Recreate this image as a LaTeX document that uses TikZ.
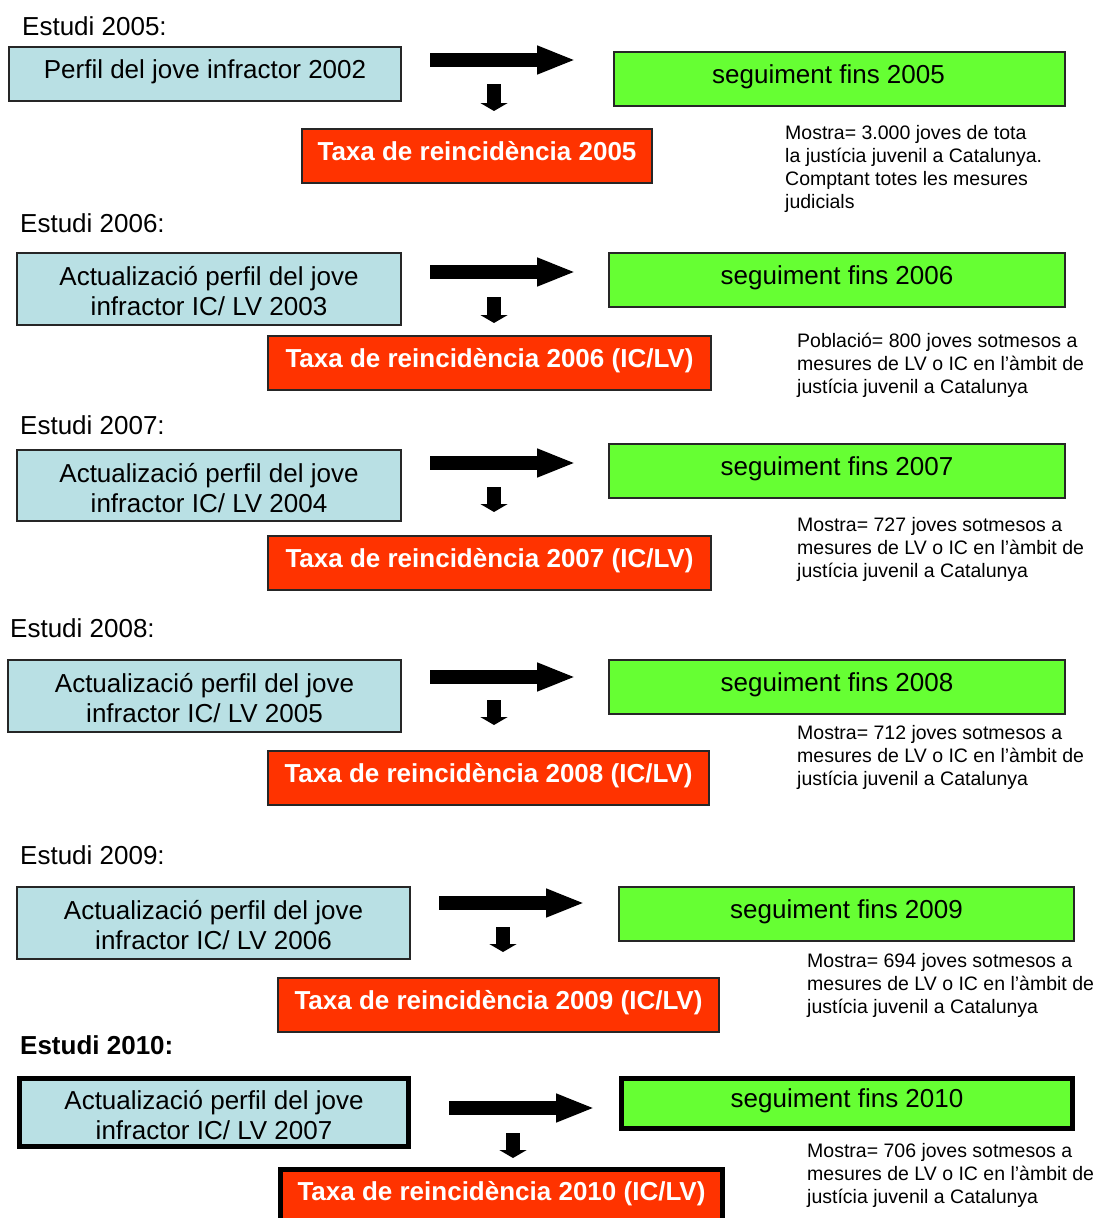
\documentclass[tikz,border=0pt]{standalone}
\usepackage{fontspec}
\setmainfont{Liberation Sans}
\usetikzlibrary{arrows.meta}
\definecolor{boxblue}{RGB}{185,224,228}
\definecolor{boxgreen}{RGB}{102,255,51}
\definecolor{boxred}{RGB}{255,51,0}
\newcommand{\uptext}[1]{\raisebox{-4.3pt}[0pt][0pt]{#1}}
\newcommand{\dntext}[1]{\raisebox{-11.8pt}[0pt][0pt]{\begin{tabular}{@{}c@{}}#1\end{tabular}}}
\tikzset{
  base/.style={rectangle, draw=black!85, line width=1.4pt, inner sep=0pt, align=center,
    font=\fontsize{26}{30}\selectfont},
  bluebox/.style={base, fill=boxblue},
  greenbox/.style={base, fill=boxgreen},
  redbox/.style={base, fill=boxred, text=white, font=\fontsize{26}{30}\selectfont\bfseries},
  thickbox/.style={line width=5pt, draw=black},
  studylabel/.style={anchor=west, inner sep=0pt, font=\fontsize{26}{30}\selectfont},
  note/.style={anchor=north west, inner sep=0pt, align=left, font=\fontsize{19.5}{23}\selectfont},
  bigarrow/.style={line width=14pt, -{Triangle[length=39pt,width=26pt]}},
  smallarrow/.style={line width=14pt, -{Triangle[length=8pt,width=27pt]}}
}
\begin{document}
\begin{tikzpicture}[x=1pt,y=-1pt]
\useasboundingbox (0,0) rectangle (1101,1218);
\clip (0,0) rectangle (1101,1218);

% ---------- 2005 ----------
\node[studylabel] (l1) at (22,26) {Estudi 2005:};
\node[bluebox, minimum width=392pt, minimum height=54pt] (b1) at (205,74) {\uptext{Perfil del jove infractor 2002}};
\node[greenbox, minimum width=451pt, minimum height=54pt] (g1) at (839.5,79) {\uptext{seguiment fins 2005}\hspace{22pt}};
\node[redbox, minimum width=350pt, minimum height=54pt] (r1) at (477,156) {\uptext{Taxa de reincidència 2005}};
\node[note] (n1) at (785,125) {Mostra= 3.000 joves de tota\\la justícia juvenil a Catalunya.\\Comptant totes les mesures\\judicials};
\coordinate (a1s) at (430,60); \coordinate (a1e) at (576,60);
\coordinate (d1s) at (494,84); \coordinate (d1e) at (494,111);
\draw[bigarrow] (a1s) -- (a1e);
\draw[smallarrow] (d1s) -- (d1e);

% ---------- 2006 ----------
\node[studylabel] (l2) at (20,223) {Estudi 2006:};
\node[bluebox, minimum width=384pt, minimum height=72pt] (b2) at (209,289) {\dntext{Actualizació perfil del jove\\infractor IC/ LV 2003}};
\node[greenbox, minimum width=456pt, minimum height=54pt] (g2) at (837,280) {\uptext{seguiment fins 2006}};
\node[redbox, minimum width=443pt, minimum height=54pt] (r2) at (489.5,363) {\uptext{Taxa de reincidència 2006 (IC/LV)}};
\node[note] (n2) at (797,333) {Població= 800 joves sotmesos a\\mesures de LV o IC en l’àmbit de\\justícia juvenil a Catalunya};
\coordinate (a2s) at (430,272); \coordinate (a2e) at (576,272);
\coordinate (d2s) at (494,297); \coordinate (d2e) at (494,323);
\draw[bigarrow] (a2s) -- (a2e);
\draw[smallarrow] (d2s) -- (d2e);

% ---------- 2007 ----------
\node[studylabel] (l3) at (20,425) {Estudi 2007:};
\node[bluebox, minimum width=384pt, minimum height=71pt] (b3) at (209,485.5) {\dntext{Actualizació perfil del jove\\infractor IC/ LV 2004}};
\node[greenbox, minimum width=456pt, minimum height=54pt] (g3) at (837,471) {\uptext{seguiment fins 2007}};
\node[redbox, minimum width=443pt, minimum height=54pt] (r3) at (489.5,563) {\uptext{Taxa de reincidència 2007 (IC/LV)}};
\node[note] (n3) at (797,517) {Mostra= 727 joves sotmesos a\\mesures de LV o IC en l’àmbit de\\justícia juvenil a Catalunya};
\coordinate (a3s) at (430,463); \coordinate (a3e) at (576,463);
\coordinate (d3s) at (494,487); \coordinate (d3e) at (494,512);
\draw[bigarrow] (a3s) -- (a3e);
\draw[smallarrow] (d3s) -- (d3e);

% ---------- 2008 ----------
\node[studylabel] (l4) at (10,628) {Estudi 2008:};
\node[bluebox, minimum width=393pt, minimum height=72pt] (b4) at (204.5,696) {\dntext{Actualizació perfil del jove\\infractor IC/ LV 2005}};
\node[greenbox, minimum width=456pt, minimum height=54pt] (g4) at (837,687) {\uptext{seguiment fins 2008}};
\node[redbox, minimum width=441pt, minimum height=54pt] (r4) at (488.5,778) {\uptext{Taxa de reincidència 2008 (IC/LV)}};
\node[note] (n4) at (797,725) {Mostra= 712 joves sotmesos a\\mesures de LV o IC en l’àmbit de\\justícia juvenil a Catalunya};
\coordinate (a4s) at (430,677); \coordinate (a4e) at (576,677);
\coordinate (d4s) at (494,700); \coordinate (d4e) at (494,725);
\draw[bigarrow] (a4s) -- (a4e);
\draw[smallarrow] (d4s) -- (d4e);

% ---------- 2009 ----------
\node[studylabel] (l5) at (20,855) {Estudi 2009:};
\node[bluebox, minimum width=393pt, minimum height=72pt] (b5) at (213.5,923) {\dntext{Actualizació perfil del jove\\infractor IC/ LV 2006}};
\node[greenbox, minimum width=455pt, minimum height=54pt] (g5) at (846.5,914) {\uptext{seguiment fins 2009}};
\node[redbox, minimum width=441pt, minimum height=54pt] (r5) at (498.5,1005) {\uptext{Taxa de reincidència 2009 (IC/LV)}};
\node[note] (n5) at (807,953) {Mostra= 694 joves sotmesos a\\mesures de LV o IC en l’àmbit de\\justícia juvenil a Catalunya};
\coordinate (a5s) at (439,903); \coordinate (a5e) at (585,903);
\coordinate (d5s) at (503,927); \coordinate (d5e) at (503,952);
\draw[bigarrow] (a5s) -- (a5e);
\draw[smallarrow] (d5s) -- (d5e);

% ---------- 2010 ----------
\node[studylabel, font=\fontsize{26}{30}\selectfont\bfseries] (l6) at (20,1045) {Estudi 2010:};
\node[bluebox, thickbox, minimum width=389pt, minimum height=68pt] (b6) at (214,1112.5) {\dntext{Actualizació perfil del jove\\infractor IC/ LV 2007}};
\node[greenbox, thickbox, minimum width=451pt, minimum height=50pt] (g6) at (847,1103.5) {\uptext{seguiment fins 2010}};
\node[redbox, thickbox, minimum width=442pt, minimum height=54pt] (r6) at (501.5,1196) {\uptext{Taxa de reincidència 2010 (IC/LV)}};
\node[note] (n6) at (807,1143) {Mostra= 706 joves sotmesos a\\mesures de LV o IC en l’àmbit de\\justícia juvenil a Catalunya};
\coordinate (a6s) at (449,1108); \coordinate (a6e) at (595,1108);
\coordinate (d6s) at (513,1133); \coordinate (d6e) at (513,1158);
\draw[bigarrow] (a6s) -- (a6e);
\draw[smallarrow] (d6s) -- (d6e);
\end{tikzpicture}
\end{document}
